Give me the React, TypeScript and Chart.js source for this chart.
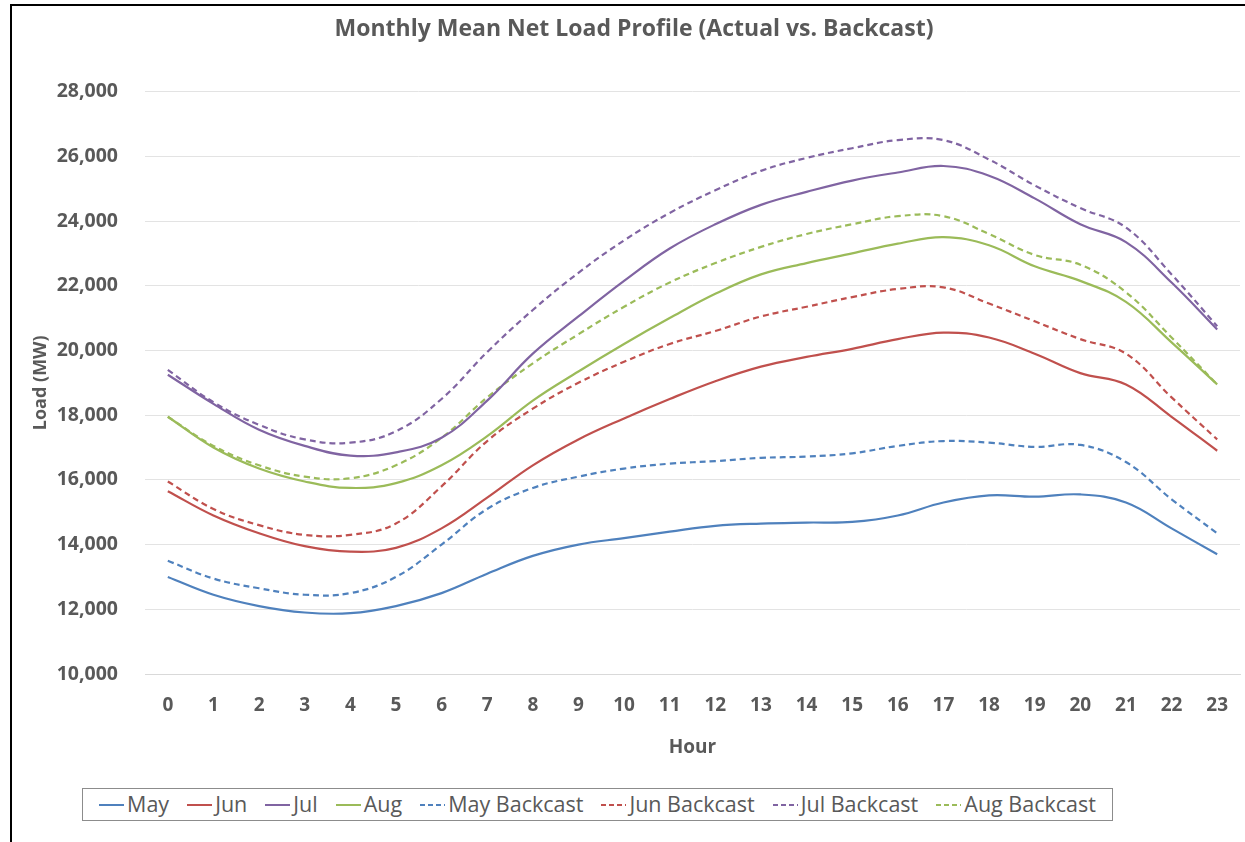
import React, { useEffect, useRef } from "react";
import { Chart, registerables } from "chart.js";

Chart.register(...registerables);

const hours = ["0","1","2","3","4","5","6","7","8","9","10","11","12","13","14","15","16","17","18","19","20","21","22","23"];

const may = [13000,12450,12100,11900,11880,12100,12500,13100,13650,14000,14200,14400,14580,14650,14680,14700,14900,15300,15520,15480,15550,15300,14500,13700];
const jun = [15650,14900,14350,13950,13780,13900,14500,15450,16450,17250,17900,18500,19050,19500,19800,20050,20350,20550,20400,19900,19300,18950,17950,16900];
const jul = [19250,18350,17550,17050,16750,16850,17300,18450,19900,21050,22150,23150,23900,24500,24900,25250,25500,25700,25400,24700,23900,23350,22100,20650];
const aug = [17950,17000,16350,15950,15750,15900,16450,17350,18450,19350,20200,21000,21750,22350,22700,23000,23300,23500,23250,22600,22150,21500,20250,18950];
const mayBackcast = [13500,12950,12650,12450,12500,13000,14000,15100,15750,16100,16350,16500,16580,16680,16720,16820,17050,17200,17150,17020,17080,16550,15400,14350];
const junBackcast = [15950,15100,14600,14300,14300,14650,15800,17200,18200,19000,19650,20200,20600,21050,21350,21650,21900,21950,21450,20900,20350,19900,18550,17250];
const julBackcast = [19400,18400,17700,17250,17150,17500,18500,19950,21250,22400,23400,24250,24950,25550,25950,26250,26500,26500,25900,25100,24400,23800,22350,20750];
const augBackcast = [17950,17050,16450,16100,16050,16450,17300,18550,19600,20500,21350,22100,22700,23200,23600,23900,24150,24150,23600,22950,22650,21800,20400,18950];

const seriesNames = ["May","Jun","Jul","Aug","May Backcast","Jun Backcast","Jul Backcast","Aug Backcast"];
const seriesValues = [may, jun, jul, aug, mayBackcast, junBackcast, julBackcast, augBackcast];
const seriesColors = ["#4F81BD","#C0504D","#8064A2","#9BBB59","#4F81BD","#C0504D","#8064A2","#9BBB59"];
const seriesDashed = [false,false,false,false,true,true,true,true];

const FONT = "'Open Sans', sans-serif";
const TEXT = "#595959";

export default function App() {
  const ref = useRef<HTMLCanvasElement | null>(null);
  useEffect(() => {
    if (!ref.current) return;
    const chart = new Chart(ref.current, {
      type: "line",
      data: {
        labels: hours,
        datasets: seriesNames.map((n, i) => ({
          label: n,
          data: seriesValues[i],
          borderColor: seriesColors[i],
          backgroundColor: seriesColors[i],
          borderWidth: 2.2,
          borderDash: seriesDashed[i] ? [6, 4] : [],
          pointRadius: 0,
          tension: 0.4,
          fill: false,
        })),
      },
      options: {
        animation: false,
        responsive: false,
        maintainAspectRatio: false,
        layout: { padding: { left: 16, right: 21, top: 0, bottom: 0 } },
        plugins: {
          legend: { display: false },
          tooltip: { enabled: false },
          title: {
            display: true,
            text: "Monthly Mean Net Load Profile (Actual vs. Backcast)",
            color: TEXT,
            font: { family: FONT, size: 23, weight: "bold" },
            padding: { top: 10, bottom: 48 },
          },
        },
        scales: {
          x: {
            type: "category",
            offset: true,
            grid: { display: false, drawTicks: false },
            border: { display: true, color: "#d9d9d9", width: 1 },
            ticks: {
              color: TEXT,
              font: { family: FONT, size: 19, weight: "bold" },
              padding: 20,
              maxRotation: 0,
              autoSkip: false,
            },
            title: {
              display: true,
              text: "Hour",
              color: TEXT,
              font: { family: FONT, size: 19, weight: "bold" },
              padding: { top: 0, bottom: 17 },
            },
            afterFit: (s: any) => { s.height = 102; },
          },
          y: {
            min: 10000,
            max: 28000,
            grid: { color: "#e3e3e3", lineWidth: 1, drawTicks: false },
            border: { display: false },
            ticks: {
              stepSize: 2000,
              color: TEXT,
              font: { family: FONT, size: 19.5, weight: "bold" },
              padding: 27,
              callback: (v: any) => Number(v).toLocaleString("en-US"),
            },
            title: {
              display: true,
              text: "Load (MW)",
              color: TEXT,
              font: { family: FONT, size: 18, weight: "bold" },
              padding: { top: 2, bottom: 0 },
            },
            afterFit: (s: any) => { s.width = 117; },
          },
        },
      },
    });
    return () => chart.destroy();
  }, []);

  return (
    <div style={{ position: "fixed", left: 0, top: 0, width: 1245, height: 842, background: "#fff", overflow: "hidden" }}>
      <div style={{ position: "absolute", left: 10, top: 4, width: 1240, height: 840, borderTop: "2px solid #000", borderLeft: "2px solid #000", boxSizing: "border-box" }} />
      <canvas ref={ref} width={1249} height={770} style={{ position: "absolute", left: 12, top: 6, width: 1249, height: 770 }} />
      <div style={{ position: "absolute", left: 82, top: 788, width: 1031, height: 33, border: "1px solid #8c8c8c", boxSizing: "border-box", display: "flex", alignItems: "center", justifyContent: "center", fontFamily: FONT, fontSize: 21.5, color: TEXT }}>
        {seriesNames.map((n, i) => (
          <div key={n} style={{ display: "flex", alignItems: "center", marginRight: i < seriesNames.length - 1 ? 18 : 0 }}>
            <svg width={25} height={6} style={{ marginRight: 3 }}>
              <line x1={0} y1={3} x2={25} y2={3} stroke={seriesColors[i]} strokeWidth={2} strokeDasharray={seriesDashed[i] ? "5 3" : undefined} />
            </svg>
            <span style={{ lineHeight: "24px", marginTop: -2 }}>{n}</span>
          </div>
        ))}
      </div>
    </div>
  );
}
